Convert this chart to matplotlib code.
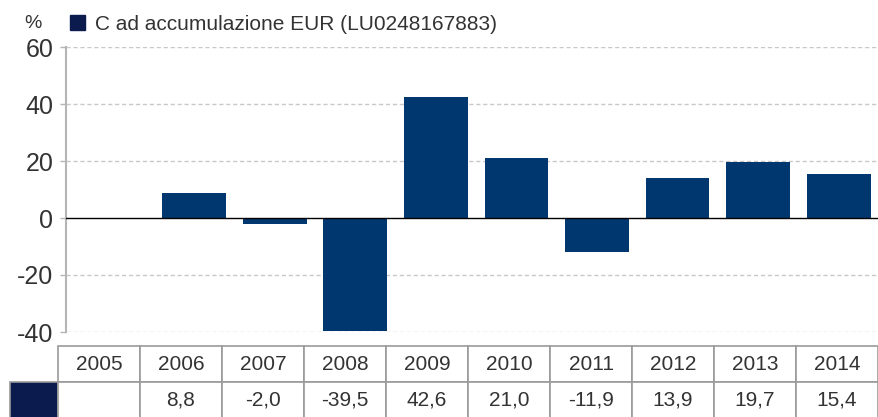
import numpy as np
import matplotlib.pyplot as plt

years = ['2005', '2006', '2007', '2008', '2009', '2010', '2011', '2012', '2013', '2014']
returns = [np.nan, 8.8, -2.0, -39.5, 42.6, 21.0, -11.9, 13.9, 19.7, 15.4]
series_name = 'C ad accumulazione EUR (LU0248167883)'
yticks = [-40, -20, 0, 20, 40, 60]

plt.rcParams['font.family'] = ['Liberation Sans', 'DejaVu Sans']
text_col = '#333333'
bar_col = '#00376f'
swatch_col = '#0c1b4d'

W, H = 879, 417
fig = plt.figure(figsize=(W / 100, H / 100), dpi=100)

#---- bar chart
ax = fig.add_axes([66 / W, 1 - 332 / H, 1 - 66 / W, 285 / H])
x = np.arange(len(years))
bars = ax.bar(x, returns, width=0.79, color=bar_col, label=series_name, zorder=3)
ax.set_xlim(-0.59, 9.5)
ax.set_ylim(-40, 60)
ax.set_yticks(yticks)
ax.set_yticklabels([str(v) for v in yticks], fontsize=18, color=text_col)
ax.set_xticks([])
for s in ['top', 'right', 'bottom']:
    ax.spines[s].set_visible(False)
ax.spines['left'].set_color('#b5b5b5')
ax.spines['left'].set_linewidth(1.5)
ax.tick_params(axis='y', length=4, color='#b5b5b5', width=1, pad=5)
for v in yticks:
    if v != 0:
        ax.axhline(v, color='#c8c8c8', linestyle=(0, (3, 2)), linewidth=1, zorder=1)
ax.axhline(0, color='black', linewidth=1, zorder=4)

#---- legend and unit
leg = fig.legend(handles=[bars], labels=[series_name], loc='center left',
                 bbox_to_anchor=(51 / W, 1 - 24 / H), frameon=False, fontsize=15,
                 handlelength=0.72, handleheight=0.72, handletextpad=0.5, labelcolor=text_col)
for h in leg.legend_handles:
    h.set_color(swatch_col)
fig.text(24 / W, 1 - 24 / H, '%', fontsize=14, color=text_col, va='center', ha='left')

#---- data table
tax = fig.add_axes([10 / W, 1 - 418 / H, 868 / W, 72 / H])
tax.axis('off')
value_labels = ['' if np.isnan(v) else f'{v:.1f}'.replace('.', ',') for v in returns]
cells = [[''] + years, [''] + value_labels]
col_w = [48] + [82] * len(years)
tbl = tax.table(cellText=cells, colWidths=[c / sum(col_w) for c in col_w],
                cellLoc='center', bbox=[0, 0, 1, 1])
tbl.auto_set_font_size(False)
for (r, c), cell in tbl.get_celld().items():
    cell.set_edgecolor('#9a9a9a')
    cell.set_linewidth(1.2)
    cell.get_text().set_fontsize(15)
    cell.get_text().set_color(text_col)
    if c == 0 and r == 0:
        cell.visible_edges = ''
    if c == 0 and r == 1:
        cell.set_facecolor(swatch_col)

fig.savefig('out.png', dpi=100)
